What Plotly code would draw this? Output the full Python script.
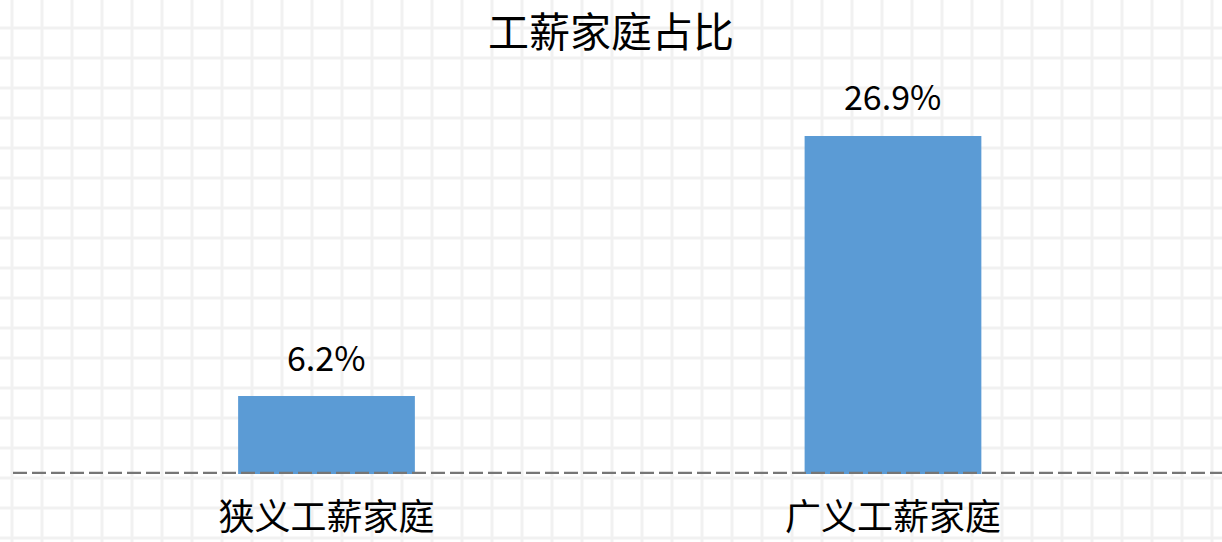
import plotly.graph_objects as go

categories = ["狭义工薪家庭", "广义工薪家庭"]
values = [6.2, 26.9]
value_labels = ["6.2%", "26.9%"]
title_text = "工薪家庭占比"

W, H = 1222, 542
FONT = "Noto Sans CJK SC, Noto Sans, sans-serif"

fig = go.Figure()
fig.add_trace(go.Bar(
    x=list(range(len(categories))), y=values,
    width=0.312, marker=dict(color="#5b9bd5", line=dict(width=0)),
    hoverinfo="skip", showlegend=False,
))

# value labels
for i, (v, lab) in enumerate(zip(values, value_labels)):
    fig.add_annotation(x=i, y=v, text=lab, showarrow=False, xref="x", yref="y",
                       yanchor="middle", yshift=40,
                       font=dict(size=34, color="#000000", family=FONT))

shapes = []
# faint background paper grid (decoration)
gx = 12
while gx < W:
    shapes.append(dict(type="line", xref="paper", yref="paper", x0=gx / W, x1=gx / W, y0=0, y1=1,
                       line=dict(color="#f1f1f1", width=3), layer="below"))
    gx += 30
gy = 28
while gy < H:
    shapes.append(dict(type="line", xref="paper", yref="paper", x0=0, x1=1, y0=1 - gy / H, y1=1 - gy / H,
                       line=dict(color="#f1f1f1", width=3), layer="below"))
    gy += 30
# dashed baseline
shapes.append(dict(type="line", xref="paper", yref="y", x0=13 / W, x1=1, y0=0, y1=0,
                   line=dict(color="#767676", width=4.5, dash="14px,5px"), layer="above"))

fig.update_layout(
    width=W, height=H,
    margin=dict(l=0, r=0, t=0, b=0, autoexpand=False),
    paper_bgcolor="#ffffff", plot_bgcolor="rgba(0,0,0,0)",
    title=dict(text=title_text, x=0.5, xanchor="center", y=1 - 33 / H, yanchor="middle",
               yref="container", automargin=False,
               font=dict(size=41, color="#000000", family=FONT)),
    shapes=shapes,
    xaxis=dict(domain=[13 / W, 1], range=[-0.5534, 1.5808], automargin=False,
               tickmode="array", tickvals=list(range(len(categories))), ticktext=categories,
               showgrid=False, zeroline=False, showline=False, ticks="",
               ticklabelstandoff=19,
               tickfont=dict(size=36, color="#000000", family=FONT)),
    yaxis=dict(domain=[(H - 474) / H, (H - 97) / H], range=[0, 30], automargin=False,
               showgrid=False, zeroline=False, showline=False, showticklabels=False, ticks=""),
)

fig.write_html("out.html")
